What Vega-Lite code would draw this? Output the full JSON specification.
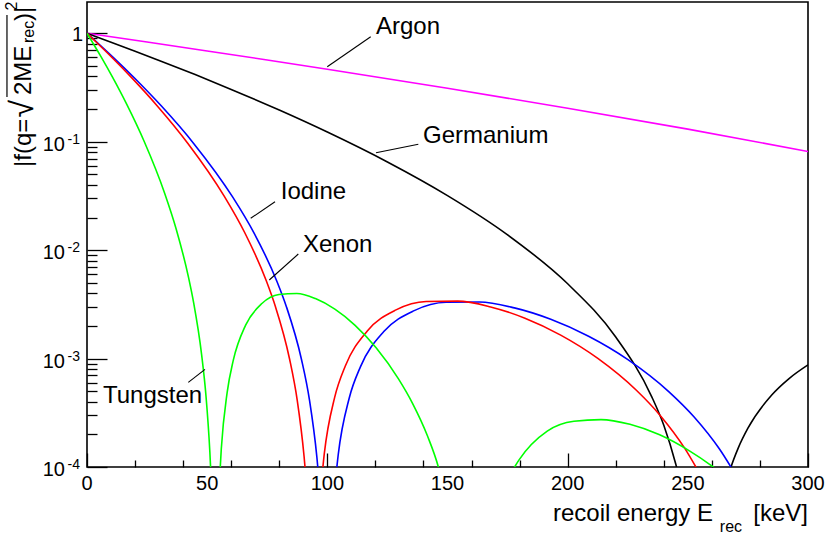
{
"$schema":"https://vega.github.io/schema/vega-lite/v6.json",
"width":721,"height":465,"autosize":"none",
"padding":{"left":87,"top":2,"right":18,"bottom":68},
"background":"white",
"config":{"view":{"stroke":"black","strokeWidth":1.6},"font":"Liberation Sans"},
"datasets":{
"curves":[
{"el":"Argon","s":"Ar1","E":0,"f":1},{"el":"Argon","s":"Ar1","E":25,"f":0.8306},{"el":"Argon","s":"Ar1","E":50,"f":0.6877},{"el":"Argon","s":"Ar1","E":75,"f":0.5674},{"el":"Argon","s":"Ar1","E":100,"f":0.4664},{"el":"Argon","s":"Ar1","E":150,"f":0.3113},{"el":"Argon","s":"Ar1","E":200,"f":0.2039},{"el":"Argon","s":"Ar1","E":250,"f":0.1306},{"el":"Argon","s":"Ar1","E":300,"f":0.08135},
{"el":"Germanium","s":"Ge1","E":0,"f":1},{"el":"Germanium","s":"Ge1","E":10,"f":0.8288},{"el":"Germanium","s":"Ge1","E":20,"f":0.6842},{"el":"Germanium","s":"Ge1","E":30,"f":0.5626},{"el":"Germanium","s":"Ge1","E":45,"f":0.4159},{"el":"Germanium","s":"Ge1","E":60,"f":0.3039},{"el":"Germanium","s":"Ge1","E":80,"f":0.196},{"el":"Germanium","s":"Ge1","E":100,"f":0.1228},{"el":"Germanium","s":"Ge1","E":125,"f":0.06507},{"el":"Germanium","s":"Ge1","E":150,"f":0.03186},{"el":"Germanium","s":"Ge1","E":175,"f":0.01384},{"el":"Germanium","s":"Ge1","E":200,"f":0.004895},{"el":"Germanium","s":"Ge1","E":220,"f":0.001581},{"el":"Germanium","s":"Ge1","E":235,"f":0.0004438},{"el":"Germanium","s":"Ge1","E":240,"f":0.0002423},{"el":"Germanium","s":"Ge1","E":245,"f":0.0001059},{"el":"Germanium","s":"Ge1","E":246,"f":0.0000869},
{"el":"Germanium","s":"Ge2","E":267.5,"f":0.0000925},{"el":"Germanium","s":"Ge2","E":268,"f":0.0001004},{"el":"Germanium","s":"Ge2","E":271,"f":0.0001502},{"el":"Germanium","s":"Ge2","E":275,"f":0.0002278},{"el":"Germanium","s":"Ge2","E":285,"f":0.0004637},{"el":"Germanium","s":"Ge2","E":292,"f":0.0006511},{"el":"Germanium","s":"Ge2","E":300,"f":0.0008748},
{"el":"Iodine","s":"I1","E":0,"f":1},{"el":"Iodine","s":"I1","E":1.235,"f":0.9453},{"el":"Iodine","s":"I1","E":4.94,"f":0.7967},{"el":"Iodine","s":"I1","E":11.114,"f":0.5944},{"el":"Iodine","s":"I1","E":19.759,"f":0.387},{"el":"Iodine","s":"I1","E":30.873,"f":0.2143},{"el":"Iodine","s":"I1","E":44.458,"f":0.09603},{"el":"Iodine","s":"I1","E":60.512,"f":0.03115},{"el":"Iodine","s":"I1","E":69.465,"f":0.01444},{"el":"Iodine","s":"I1","E":79.036,"f":0.005141},{"el":"Iodine","s":"I1","E":83.037,"f":0.002981},{"el":"Iodine","s":"I1","E":89.225,"f":0.0009865},{"el":"Iodine","s":"I1","E":92.614,"f":0.0004098},{"el":"Iodine","s":"I1","E":95.633,"f":0.0001244},{"el":"Iodine","s":"I1","E":96.5,"f":0.0000766},
{"el":"Iodine","s":"I2","E":103.17,"f":0.0000674},{"el":"Iodine","s":"I2","E":104.53,"f":0.0001297},{"el":"Iodine","s":"I2","E":109.12,"f":0.0004329},{"el":"Iodine","s":"I2","E":113.81,"f":0.0008432},{"el":"Iodine","s":"I2","E":123.49,"f":0.0017734},{"el":"Iodine","s":"I2","E":136.15,"f":0.0027689},{"el":"Iodine","s":"I2","E":149.43,"f":0.003304},{"el":"Iodine","s":"I2","E":163.32,"f":0.0033251},{"el":"Iodine","s":"I2","E":177.83,"f":0.0029353},{"el":"Iodine","s":"I2","E":192.96,"f":0.0023052},{"el":"Iodine","s":"I2","E":208.7,"f":0.001608},{"el":"Iodine","s":"I2","E":225.07,"f":0.00097865},{"el":"Iodine","s":"I2","E":242.05,"f":0.00049659},{"el":"Iodine","s":"I2","E":252.53,"f":0.00029073},{"el":"Iodine","s":"I2","E":263.24,"f":0.00014567},{"el":"Iodine","s":"I2","E":270.5,"f":0.0000804},
{"el":"Xenon","s":"X1","E":0,"f":1},{"el":"Xenon","s":"X1","E":1.166,"f":0.9454},{"el":"Xenon","s":"X1","E":4.665,"f":0.7972},{"el":"Xenon","s":"X1","E":10.496,"f":0.5952},{"el":"Xenon","s":"X1","E":18.66,"f":0.3879},{"el":"Xenon","s":"X1","E":29.157,"f":0.2151},{"el":"Xenon","s":"X1","E":41.985,"f":0.09651},{"el":"Xenon","s":"X1","E":57.147,"f":0.03136},{"el":"Xenon","s":"X1","E":65.602,"f":0.01455},{"el":"Xenon","s":"X1","E":74.641,"f":0.005187},{"el":"Xenon","s":"X1","E":78.419,"f":0.003009},{"el":"Xenon","s":"X1","E":84.263,"f":0.0009965},{"el":"Xenon","s":"X1","E":87.465,"f":0.0004141},{"el":"Xenon","s":"X1","E":90.316,"f":0.0001257},{"el":"Xenon","s":"X1","E":91.14,"f":0.0000774},
{"el":"Xenon","s":"X2","E":97.43,"f":0.0000682},{"el":"Xenon","s":"X2","E":98.712,"f":0.0001312},{"el":"Xenon","s":"X2","E":103.05,"f":0.0004383},{"el":"Xenon","s":"X2","E":107.48,"f":0.0008541},{"el":"Xenon","s":"X2","E":116.63,"f":0.0017982},{"el":"Xenon","s":"X2","E":128.58,"f":0.0028116},{"el":"Xenon","s":"X2","E":141.12,"f":0.00336},{"el":"Xenon","s":"X2","E":154.24,"f":0.0033868},{"el":"Xenon","s":"X2","E":167.94,"f":0.0029947},{"el":"Xenon","s":"X2","E":182.23,"f":0.0023558},{"el":"Xenon","s":"X2","E":197.1,"f":0.0016463},{"el":"Xenon","s":"X2","E":212.55,"f":0.0010038},{"el":"Xenon","s":"X2","E":228.59,"f":0.00051029},{"el":"Xenon","s":"X2","E":238.49,"f":0.00029911},{"el":"Xenon","s":"X2","E":248.6,"f":0.00015005},{"el":"Xenon","s":"X2","E":255.46,"f":0.0000829},
{"el":"Tungsten","s":"W1","E":0,"f":1},{"el":"Tungsten","s":"W1","E":0.66,"f":0.9466},{"el":"Tungsten","s":"W1","E":2.64,"f":0.8011},{"el":"Tungsten","s":"W1","E":5.941,"f":0.6018},{"el":"Tungsten","s":"W1","E":10.561,"f":0.3956},{"el":"Tungsten","s":"W1","E":16.502,"f":0.2218},{"el":"Tungsten","s":"W1","E":23.762,"f":0.1009},{"el":"Tungsten","s":"W1","E":32.343,"f":0.03331},{"el":"Tungsten","s":"W1","E":37.128,"f":0.01559},{"el":"Tungsten","s":"W1","E":42.244,"f":0.005612},{"el":"Tungsten","s":"W1","E":44.382,"f":0.003269},{"el":"Tungsten","s":"W1","E":47.689,"f":0.001089},{"el":"Tungsten","s":"W1","E":49.502,"f":0.0004542},{"el":"Tungsten","s":"W1","E":51.114,"f":0.0001383},{"el":"Tungsten","s":"W1","E":51.7,"f":0.000074},
{"el":"Tungsten","s":"W2","E":55.14,"f":0.0000755},{"el":"Tungsten","s":"W2","E":55.868,"f":0.0001456},{"el":"Tungsten","s":"W2","E":58.323,"f":0.0004886},{"el":"Tungsten","s":"W2","E":60.831,"f":0.0009568},{"el":"Tungsten","s":"W2","E":66.007,"f":0.002034},{"el":"Tungsten","s":"W2","E":72.77,"f":0.0032206},{"el":"Tungsten","s":"W2","E":79.868,"f":0.0038999},{"el":"Tungsten","s":"W2","E":87.292,"f":0.0039859},{"el":"Tungsten","s":"W2","E":95.049,"f":0.0035757},{"el":"Tungsten","s":"W2","E":103.13,"f":0.0028558},{"el":"Tungsten","s":"W2","E":111.551,"f":0.0020272},{"el":"Tungsten","s":"W2","E":120.3,"f":0.0012564},{"el":"Tungsten","s":"W2","E":129.6,"f":0.00064966},{"el":"Tungsten","s":"W2","E":135.5,"f":0.00038478},{"el":"Tungsten","s":"W2","E":141.6,"f":0.0001951},{"el":"Tungsten","s":"W2","E":146.5,"f":0.0000945},{"el":"Tungsten","s":"W2","E":147.6,"f":0.0000753},
{"el":"Tungsten","s":"W3","E":177.6,"f":0.0000975},{"el":"Tungsten","s":"W3","E":179.7,"f":0.0001158},{"el":"Tungsten","s":"W3","E":191.5,"f":0.0002145},{"el":"Tungsten","s":"W3","E":202.6,"f":0.0002642},{"el":"Tungsten","s":"W3","E":213.86,"f":0.0002737},{"el":"Tungsten","s":"W3","E":225.91,"f":0.0002476},{"el":"Tungsten","s":"W3","E":238.28,"f":0.000198},{"el":"Tungsten","s":"W3","E":250.99,"f":0.0001394},{"el":"Tungsten","s":"W3","E":259.2,"f":0.0001054},{"el":"Tungsten","s":"W3","E":262.0,"f":0.0000947}
],
"leaders":[
{"x1":99.97,"y1":0.4918,"x2":118.05,"y2":0.9303},
{"x1":120.25,"y1":0.0792,"x2":137.86,"y2":0.09467},
{"x1":68.11,"y1":0.01966,"x2":78.23,"y2":0.027975},
{"x1":75.85,"y1":0.005304,"x2":87.92,"y2":0.009213},
{"x1":42.15,"y1":0.00060393,"x2":49.1,"y2":0.00079603}
],
"labels":[
{"E":120.25,"f":0.985,"t":"Argon"},
{"E":139.81,"f":0.0967,"t":"Germanium"},
{"E":80.6,"f":0.029437,"t":"Iodine"},
{"E":89.88,"f":0.009715,"t":"Xenon"},
{"E":6.66,"f":0.00038919,"t":"Tungsten"}
],
"ylab":[
{"v":0.1,"b":"10","e":"-1"},{"v":0.01,"b":"10","e":"-2"},{"v":0.001,"b":"10","e":"-3"},{"v":0.0001,"b":"10","e":"-4"}
],
"xlab":[
{"v":0,"t":"0"},{"v":50,"t":"50"},{"v":100,"t":"100"},{"v":150,"t":"150"},{"v":200,"t":"200"},{"v":250,"t":"250"},{"v":300,"t":"300"}
]
},
"layer":[
{"data":{"name":"curves"},
 "mark":{"type":"line","interpolate":"monotone","clip":true,"strokeWidth":1.6},
 "encoding":{
  "x":{"field":"E","type":"quantitative","scale":{"domain":[0,300],"nice":false,"zero":false},
   "axis":{"values":[0,10,20,30,40,50,60,70,80,90,100,110,120,130,140,150,160,170,180,190,200,210,220,230,240,250,260,270,280,290,300],
    "labels":false,
    "tickSize":{"condition":{"test":"datum.value % 50 === 0","value":-14},"value":-7},
    "domain":false,"grid":false,"title":null,"tickColor":"black","tickWidth":1.3}},
  "y":{"field":"f","type":"quantitative","scale":{"type":"log","domain":[0.0001,1.944],"nice":false},
   "axis":{"values":[0.0001,0.0002,0.0003,0.0004,0.0005,0.0006,0.0007,0.0008,0.0009,0.001,0.002,0.003,0.004,0.005,0.006,0.007,0.008,0.009,0.01,0.02,0.03,0.04,0.05,0.06,0.07,0.08,0.09,0.1,0.2,0.3,0.4,0.5,0.6,0.7,0.8,0.9,1],
    "labels":false,
    "tickSize":{"condition":{"test":"abs(log(datum.value)/LN10 - round(log(datum.value)/LN10)) < 0.001","value":-20},"value":-10},
    "domain":false,"grid":false,"title":null,"tickColor":"black","tickWidth":1.3}},
  "color":{"field":"el","type":"nominal","scale":{"domain":["Argon","Germanium","Iodine","Xenon","Tungsten"],"range":["#ff00ff","#000000","#0000ff","#ff0000","#00ff00"]},"legend":null},
  "detail":{"field":"s"}
 }},
{"data":{"name":"leaders"},
 "mark":{"type":"rule","color":"black","strokeWidth":1.1},
 "encoding":{"x":{"field":"x1","type":"quantitative"},"y":{"field":"y1","type":"quantitative"},"x2":{"field":"x2"},"y2":{"field":"y2"}}},
{"data":{"name":"labels"},
 "mark":{"type":"text","align":"left","baseline":"alphabetic","fontSize":24,"font":"Liberation Sans","color":"black"},
 "encoding":{"x":{"field":"E","type":"quantitative"},"y":{"field":"f","type":"quantitative"},"text":{"field":"t"}}},
{"data":{"name":"xlab"},
 "mark":{"type":"text","align":"center","baseline":"alphabetic","fontSize":20,"font":"Liberation Sans","color":"black","dy":23},
 "encoding":{"x":{"field":"v","type":"quantitative"},"y":{"datum":0.0001},"text":{"field":"t"}}},
{"data":{"values":[{"v":1,"b":"1"}]},
 "mark":{"type":"text","align":"right","baseline":"alphabetic","fontSize":20,"font":"Liberation Sans","color":"black","dx":-4,"dy":8},
 "encoding":{"x":{"datum":0},"y":{"field":"v","type":"quantitative"},"text":{"field":"b"}}},
{"data":{"name":"ylab"},
 "mark":{"type":"text","align":"right","baseline":"alphabetic","fontSize":20,"font":"Liberation Sans","color":"black","dx":-22,"dy":9},
 "encoding":{"x":{"datum":0},"y":{"field":"v","type":"quantitative"},"text":{"field":"b"}}},
{"data":{"name":"ylab"},
 "mark":{"type":"text","align":"right","baseline":"alphabetic","fontSize":14,"font":"Liberation Sans","color":"black","dx":-7,"dy":2},
 "encoding":{"x":{"datum":0},"y":{"field":"v","type":"quantitative"},"text":{"field":"e"}}},
{"data":{"values":[{"E":260.48,"f":0.000031757,"t":"recoil energy E"},{"E":300,"f":0.000031757,"t":"[keV]"}]},
 "mark":{"type":"text","align":"right","baseline":"alphabetic","fontSize":24,"font":"Liberation Sans","color":"black"},
 "encoding":{"x":{"field":"E","type":"quantitative"},"y":{"field":"f","type":"quantitative"},"text":{"field":"t"}}},
{"data":{"values":[{"E":263.3,"f":0.000025294,"t":"rec"}]},
 "mark":{"type":"text","align":"left","baseline":"alphabetic","fontSize":16,"font":"Liberation Sans","color":"black"},
 "encoding":{"x":{"field":"E","type":"quantitative"},"y":{"field":"f","type":"quantitative"},"text":{"field":"t"}}},
{"data":{"values":[{"E":-23.3,"f":0.058445,"t":"|f(q="},{"E":-23.3,"f":0.26978,"t":"2ME"},{"E":-23.3,"f":1.2986,"t":")|"}]},
 "mark":{"type":"text","align":"left","baseline":"alphabetic","angle":270,"fontSize":24,"font":"Liberation Sans","color":"black"},
 "encoding":{"x":{"field":"E","type":"quantitative"},"y":{"field":"f","type":"quantitative"},"text":{"field":"t"}}},
{"data":{"values":[{"E":-22.47,"f":0.16728,"t":"√"}]},
 "mark":{"type":"text","align":"left","baseline":"alphabetic","angle":270,"fontSize":32,"font":"Liberation Sans","color":"black"},
 "encoding":{"x":{"field":"E","type":"quantitative"},"y":{"field":"f","type":"quantitative"},"text":{"field":"t"}}},
{"data":{"values":[{"E":-22.05,"f":0.81378,"t":"rec"},{"E":-29.13,"f":1.62,"t":"2"}]},
 "mark":{"type":"text","align":"left","baseline":"alphabetic","angle":270,"fontSize":16,"font":"Liberation Sans","color":"black"},
 "encoding":{"x":{"field":"E","type":"quantitative"},"y":{"field":"f","type":"quantitative"},"text":{"field":"t"}}},
{"data":{"values":[{"x1":-33.3,"y1":0.2585,"y2":1.4748}]},
 "mark":{"type":"rule","color":"black","strokeWidth":1.2},
 "encoding":{"x":{"field":"x1","type":"quantitative"},"y":{"field":"y1","type":"quantitative"},"y2":{"field":"y2"}}}
]
}
